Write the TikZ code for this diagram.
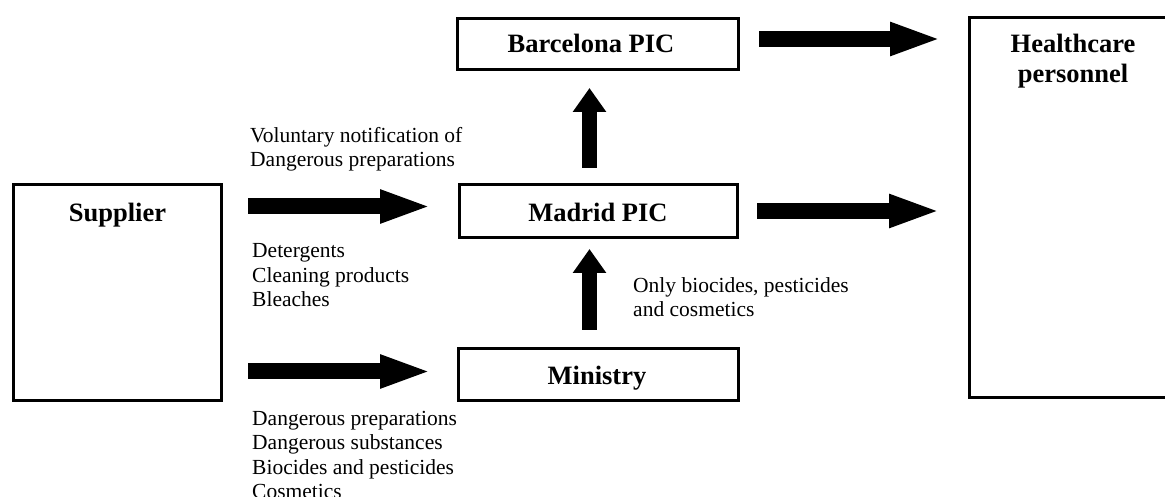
\documentclass[tikz,border=0pt]{standalone}
\usepackage{fontspec}
\setmainfont{Liberation Serif}
\usetikzlibrary{arrows.meta}

% multi-line nodes are placed by the baseline of their last line
\tikzset{
  box/.style={draw, line width=3bp, rectangle, inner sep=0pt},
  title/.style={font=\fontsize{26.5bp}{30bp}\selectfont\bfseries, inner sep=0pt, align=center, anchor=base},
  note/.style={font=\fontsize{21.5bp}{24.5bp}\selectfont, inner sep=0pt, align=left, anchor=base west},
  flowh/.style={line width=16bp, -{Triangle[length=52bp, width=30bp]}},
  flowv/.style={line width=15bp, -{Triangle[length=24bp, width=32bp]}}
}

\begin{document}
\begin{tikzpicture}[x=1bp, y=-1bp]
  \useasboundingbox (0,0) rectangle (1165,497);
  \clip (0,0) rectangle (1165,497);

  % boxes
  \node[box, minimum width=208bp, minimum height=216bp] (supplier) at (117.5,292.5) {};
  \node[box, minimum width=300bp, minimum height=380bp] (health) at (1119.5,207.5) {};
  \node[box, minimum width=281bp, minimum height=51bp] (barcelona) at (598,44) {};
  \node[box, minimum width=278bp, minimum height=53bp] (madrid) at (598.5,211) {};
  \node[box, minimum width=280bp, minimum height=52bp] (ministry) at (598.5,374.5) {};

  % box titles
  \node[title] (supplierT) at (117.5,222) {Supplier};
  \node[title] (healthT) at (1073,83) {Healthcare\\personnel};
  \node[title] (barcelonaT) at (591,53) {Barcelona PIC};
  \node[title] (madridT) at (598,222) {Madrid PIC};
  \node[title] (ministryT) at (597,385) {Ministry};

  % arrow end points
  \coordinate (s1) at (248,206.5);  \coordinate (e1) at (432,206.5);
  \coordinate (s2) at (248,371.5);  \coordinate (e2) at (432,371.5);
  \coordinate (s3) at (759,39);     \coordinate (e3) at (942,39);
  \coordinate (s4) at (757,211);    \coordinate (e4) at (941,211);
  \coordinate (s5) at (589.5,168);  \coordinate (e5) at (589.5,88);
  \coordinate (s6) at (589.5,330);  \coordinate (e6) at (589.5,249);

  % block arrows
  \draw[flowh] (s1) -- (e1);
  \draw[flowh] (s2) -- (e2);
  \draw[flowh] (s3) -- (e3);
  \draw[flowh] (s4) -- (e4);
  \draw[flowv] (s5) -- (e5);
  \draw[flowv] (s6) -- (e6);

  % arrow labels
  \node[note] (vol) at (250,167) {Voluntary notification of\\Dangerous preparations};
  \node[note] (det) at (252,307) {Detergents\\Cleaning products\\Bleaches};
  \node[note] (dang) at (252,498.5) {Dangerous preparations\\Dangerous substances\\Biocides and pesticides\\Cosmetics};
  \node[note] (only) at (633,317) {Only biocides, pesticides\\and cosmetics};
\end{tikzpicture}
\end{document}
